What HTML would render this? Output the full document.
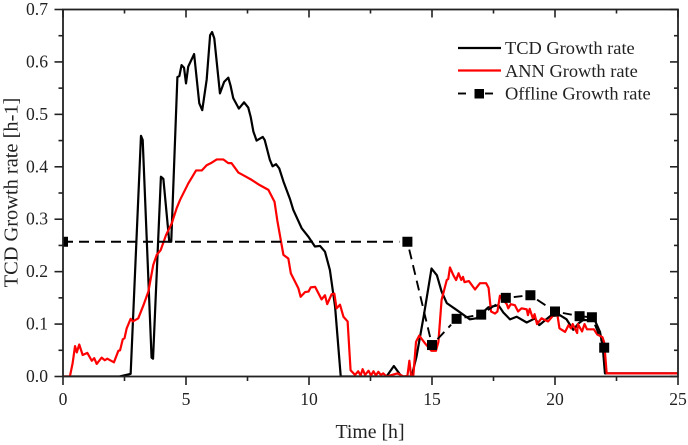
<!DOCTYPE html>
<html>
<head>
<meta charset="utf-8">
<style>
html,body{margin:0;padding:0;background:#fff;}
svg{display:block;}
text{font-family:"Liberation Serif",serif;fill:#222;}
</style>
</head>
<body>
<svg id="chart" width="688" height="445" viewBox="0 0 688 445" xmlns="http://www.w3.org/2000/svg">
<defs><clipPath id="plot-clip"><rect x="63" y="9.5" width="615" height="367"></rect></clipPath></defs>
</svg>
<script>
const xMajorTicks = [0, 5, 10, 15, 20, 25];
const xMinorTicks = [2.5, 7.5, 12.5, 17.5, 22.5];
const yMajorTicks = ["0.0", "0.1", "0.2", "0.3", "0.4", "0.5", "0.6", "0.7"];
const yMinorTicks = [0.05, 0.15, 0.25, 0.35, 0.45, 0.55, 0.65];

const tcdTime = [0,2.3,2.75,3.17,3.24,3.6,3.66,3.98,4.08,4.32,4.4,4.65,4.73,4.82,4.92,5.0,5.09,5.33,5.54,5.66,5.84,5.98,6.06,6.15,6.38,6.55,6.72,6.81,6.92,7.15,7.36,7.53,7.63,7.74,7.87,8.12,8.2,8.41,8.52,8.66,8.79,8.96,9.23,9.36,9.7,9.97,10.24,10.45,10.65,10.85,11.06,11.29,13.15,13.45,13.76,14.17,14.37,14.67,14.98,15.2,15.39,15.6,16.0,16.54,16.8,17.29,17.7,17.9,18.17,18.44,18.85,19.19,19.36,19.8,20.2,20.47,20.74,20.95,21.15,21.63,21.83,21.94,22.03,25];
const tcdRate = [0,0,0.005,0.459,0.451,0.036,0.034,0.381,0.377,0.257,0.257,0.571,0.573,0.594,0.589,0.559,0.591,0.615,0.521,0.508,0.566,0.651,0.657,0.645,0.54,0.562,0.57,0.555,0.531,0.511,0.523,0.513,0.495,0.467,0.45,0.457,0.451,0.413,0.401,0.405,0.397,0.372,0.338,0.318,0.283,0.267,0.248,0.249,0.238,0.203,0.133,0,0,0.02,0,0,0.038,0.117,0.206,0.193,0.162,0.14,0.127,0.109,0.111,0.132,0.136,0.122,0.109,0.114,0.103,0.111,0.098,0.115,0.117,0.109,0.089,0.101,0.108,0.106,0.085,0.057,0.006,0.006];

const annTime = [0,0.28,0.39,0.49,0.56,0.66,0.8,0.99,1.17,1.27,1.37,1.57,1.7,1.8,2.07,2.25,2.32,2.43,2.5,2.59,2.75,2.84,3.06,3.27,3.47,3.67,3.81,3.97,4.19,4.42,4.62,4.76,5.09,5.41,5.64,5.84,6.05,6.25,6.52,6.72,6.85,7.13,7.4,7.67,8.0,8.35,8.6,8.71,8.96,9.16,9.26,9.57,9.66,9.84,9.98,10.07,10.25,10.51,10.65,10.74,10.92,11.03,11.12,11.26,11.4,11.57,11.69,11.87,12.0,12.1,12.18,12.28,12.42,12.52,12.62,12.72,12.82,12.92,13.02,13.15,13.6,13.84,14.0,14.08,14.15,14.24,14.35,14.48,14.72,14.92,14.98,15.16,15.26,15.39,15.6,15.66,15.73,15.87,15.98,16.08,16.19,16.26,16.32,16.5,16.75,16.95,17.2,17.3,17.4,17.56,17.66,17.76,18.04,18.1,18.2,18.37,18.5,18.64,18.85,18.9,18.97,19.1,19.17,19.27,19.45,19.72,19.92,20.1,20.18,20.41,20.55,20.65,20.72,20.9,20.93,21.1,21.2,21.3,21.58,21.72,21.93,22.0,22.1,25];
const annRate = [0,0,0.025,0.058,0.046,0.061,0.041,0.045,0.03,0.035,0.024,0.036,0.031,0.034,0.027,0.049,0.05,0.071,0.073,0.092,0.11,0.105,0.111,0.136,0.162,0.213,0.232,0.241,0.27,0.292,0.321,0.337,0.368,0.393,0.393,0.403,0.408,0.414,0.414,0.407,0.407,0.389,0.382,0.375,0.365,0.356,0.333,0.298,0.232,0.225,0.197,0.168,0.152,0.161,0.162,0.17,0.171,0.147,0.155,0.138,0.157,0.158,0.13,0.137,0.114,0.105,0.012,0.003,0.01,0.002,0.014,0.003,0.011,0.002,0.01,0.002,0.009,0.003,0.006,0,0.006,0,0.001,0.03,0.001,0.001,0.066,0.078,0.063,0.052,0.049,0.049,0.066,0.146,0.184,0.186,0.208,0.193,0.184,0.197,0.184,0.19,0.18,0.182,0.166,0.178,0.178,0.169,0.124,0.12,0.124,0.154,0.138,0.13,0.138,0.136,0.124,0.13,0.128,0.117,0.129,0.111,0.119,0.1,0.111,0.105,0.116,0.117,0.092,0.085,0.098,0.092,0.1,0.083,0.1,0.086,0.1,0.09,0.09,0.08,0.075,0.065,0.006,0.006];

const offlineTime = [0,14,15,16,17,18,19,20,21,21.5,22];
const offlineRate = [0.257,0.257,0.06,0.11,0.118,0.15,0.155,0.124,0.115,0.113,0.055];

const NS = "http://www.w3.org/2000/svg";
const svg = document.getElementById("chart");
const plot = {left: 63, right: 678, top: 9.5, bottom: 376.5};
const xMax = 25, yMax = 0.7;
function xScale(t){ return plot.left + (t / xMax) * (plot.right - plot.left); }
function yScale(v){ return plot.bottom - (v / yMax) * (plot.bottom - plot.top); }
function make(tag, attrs, parent){
  const el = document.createElementNS(NS, tag);
  for (const k in attrs) el.setAttribute(k, attrs[k]);
  (parent || svg).appendChild(el);
  return el;
}
function linePath(xs, ys){
  return xs.map((t, i) => (i ? "L" : "M") + xScale(t).toFixed(2) + " " + yScale(ys[i]).toFixed(2)).join(" ");
}

/* series */
const clipGroup = make("g", {"clip-path": "url(#plot-clip)"});



const tcdLine = make("path", {d: linePath(tcdTime, tcdRate), fill: "none", stroke: "#000", "stroke-width": 2.2, "stroke-linejoin": "round"}, clipGroup);



const annLine = make("path", {d: linePath(annTime, annRate), fill: "none", stroke: "#f00", "stroke-width": 2.2, "stroke-linejoin": "round"}, clipGroup);



offlineTime.forEach((t, i) => {
  if (i === offlineTime.length - 1) return;
  const x1 = xScale(t), y1 = yScale(offlineRate[i]);
  const x2 = xScale(offlineTime[i + 1]), y2 = yScale(offlineRate[i + 1]);
  const len = Math.hypot(x2 - x1, y2 - y1);
  const gap = i === 0 ? 0 : 8;
  const ux = (x2 - x1) / len, uy = (y2 - y1) / len;
  const seg = make("line", {x1: x1 + ux * gap, y1: y1 + uy * gap, x2: x2 - ux * 8, y2: y2 - uy * 8, stroke: "#000", "stroke-width": 1.9, "stroke-dasharray": "10 6"}, clipGroup);
  
  
});
offlineTime.forEach((t, i) => {
  const m = make("rect", {x: xScale(t) - 5, y: yScale(offlineRate[i]) - 5, width: 10, height: 10, fill: "#000"}, clipGroup);
  
  
});

/* axes */
const frame = make("rect", {x: plot.left, y: plot.top, width: plot.right - plot.left, height: plot.bottom - plot.top, fill: "none", stroke: "#222", "stroke-width": 1.8});



function tick(x1, y1, x2, y2, name){
  const l = make("line", {x1, y1, x2, y2, stroke: "#222", "stroke-width": 1.6});
  
  
}
xMajorTicks.forEach(t => {
  const x = xScale(t);
  tick(x, plot.bottom, x, plot.bottom + 8.5, "x-major-tick");
  tick(x, plot.top, x, plot.top + 8, "x-top-major-tick");
  const lb = make("text", {x: x, y: 405, "text-anchor": "middle", "font-size": 17.6});
  lb.textContent = String(t);
  
  
});
xMinorTicks.forEach(t => {
  const x = xScale(t);
  tick(x, plot.bottom, x, plot.bottom + 4.5, "x-minor-tick");
  tick(x, plot.top, x, plot.top + 4, "x-top-minor-tick");
});
yMajorTicks.forEach(label => {
  const y = yScale(parseFloat(label));
  tick(plot.left - 8.5, y, plot.left, y, "y-major-tick");
  tick(plot.right - 8, y, plot.right, y, "y-right-major-tick");
  const lb = make("text", {x: 48, y: y + 5.5, "text-anchor": "end", "font-size": 17.6});
  lb.textContent = label;
  
  
});
yMinorTicks.forEach(v => {
  const y = yScale(v);
  tick(plot.left - 4.5, y, plot.left, y, "y-minor-tick");
  tick(plot.right - 4, y, plot.right, y, "y-right-minor-tick");
});

const xTitle = make("text", {x: 370, y: 438, "text-anchor": "middle", "font-size": 19.8});
xTitle.textContent = "Time [h]";



const yTitle = make("text", {x: 0, y: 0, "text-anchor": "middle", "font-size": 20.4, transform: "translate(17.5 192.5) rotate(-90)"});
yTitle.textContent = "TCD Growth rate [h-1]";



/* legend */
const legend = make("g", {});



const legendTcdLine = make("line", {x1: 458, y1: 48, x2: 501, y2: 48, stroke: "#000", "stroke-width": 2.2}, legend);


const legendTcd = make("text", {x: 505, y: 54, "font-size": 18.4}, legend);
legendTcd.textContent = "TCD Growth rate";



const legendAnnLine = make("line", {x1: 458, y1: 70.5, x2: 501, y2: 70.5, stroke: "#f00", "stroke-width": 2.2}, legend);


const legendAnn = make("text", {x: 505, y: 77, "font-size": 18.4}, legend);
legendAnn.textContent = "ANN Growth rate";



const legendDashA = make("line", {x1: 458, y1: 93.5, x2: 466, y2: 93.5, stroke: "#000", "stroke-width": 1.9}, legend);


const legendDashB = make("line", {x1: 485, y1: 93.5, x2: 493, y2: 93.5, stroke: "#000", "stroke-width": 1.9}, legend);


const legendMarker = make("rect", {x: 474.5, y: 89, width: 9.5, height: 9.5, fill: "#000"}, legend);


const legendOff = make("text", {x: 505, y: 99.5, "font-size": 18.4}, legend);
legendOff.textContent = "Offline Growth rate";


</script>
</body>
</html>
